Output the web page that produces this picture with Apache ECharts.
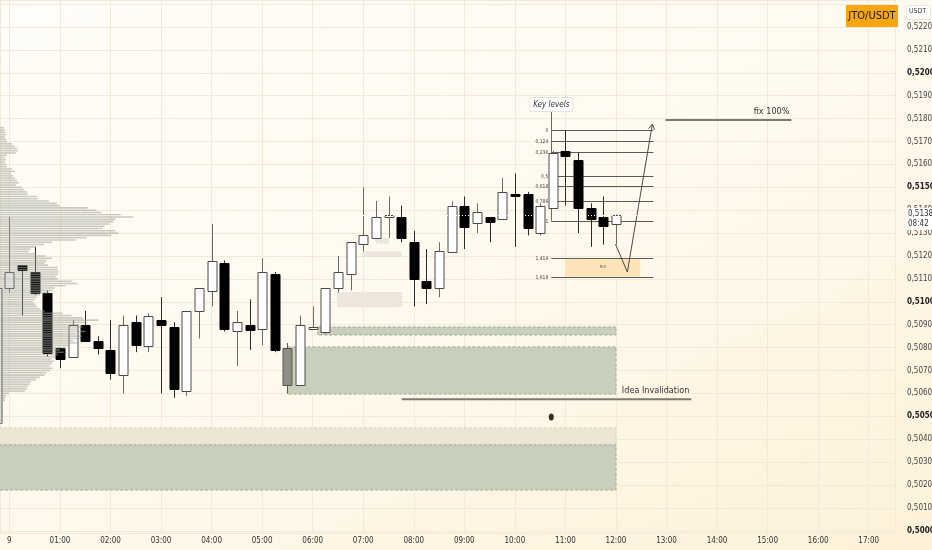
<!DOCTYPE html>
<html>
<head>
<meta charset="utf-8">
<script src="https://cdn.jsdelivr.net/npm/echarts@6/dist/echarts.min.js"></script>
<style>
html,body{margin:0;padding:0;}
#c{width:932px;height:550px;background:linear-gradient(155deg,#fffdf8 0%,#fffaf0 45%,#fdf1d8 100%);}
</style>
</head>
<body>
<div id="c"></div>
<script>
// ---------------- DATA ----------------
const times  = ['23:45','00:00','00:15','00:30','00:45','01:00','01:15','01:30','01:45','02:00','02:15','02:30','02:45','03:00','03:15','03:30','03:45','04:00','04:15','04:30','04:45','05:00','05:15','05:30','05:45','06:00','06:15','06:30','06:45','07:00','07:15','07:30','07:45','08:00','08:15','08:30','08:45','09:00','09:15','09:30','09:45','10:00','10:15','10:30','10:45','11:00','11:15','11:30','11:45','12:00'];
const opens  = [0.5047,0.5106,0.5116,0.5113,0.5104,0.5080,0.5076,0.5090,0.5083,0.5079,0.5068,0.5091,0.5081,0.5092,0.5089,0.5061,0.5096,0.5105,0.5117,0.5087,0.5090,0.5088,0.5112,0.5080,0.5064,0.5088,0.5087,0.5106,0.5112,0.5125,0.5128,0.5137,0.5137,0.5126,0.5109,0.5106,0.5122,0.5142,0.5134,0.5137,0.5136,0.5147,0.5147,0.5130,0.5141,0.5166,0.5162,0.5141,0.5137,0.5134];
const highs  = [0.5107,0.5137,0.5116,0.5124,0.5105,0.5080,0.5092,0.5096,0.5085,0.5092,0.5094,0.5094,0.5095,0.5102,0.5091,0.5096,0.5106,0.5134,0.5118,0.5096,0.5101,0.5119,0.5113,0.5082,0.5094,0.5098,0.5106,0.5120,0.5126,0.5150,0.5144,0.5146,0.5142,0.5131,0.5123,0.5126,0.5144,0.5146,0.5143,0.5137,0.5154,0.5156,0.5148,0.5143,0.5166,0.5175,0.5165,0.5143,0.5146,0.5138];
const lows   = [0.5046,0.5104,0.5094,0.5103,0.5076,0.5071,0.5076,0.5083,0.5077,0.5066,0.5060,0.5078,0.5078,0.5060,0.5058,0.5059,0.5084,0.5098,0.5087,0.5072,0.5079,0.5081,0.5078,0.5060,0.5064,0.5088,0.5086,0.5104,0.5105,0.5122,0.5128,0.5128,0.5126,0.5098,0.5099,0.5102,0.5122,0.5123,0.5130,0.5126,0.5136,0.5124,0.5129,0.5129,0.5141,0.5142,0.5130,0.5124,0.5125,0.5125];
const closes = [0.5106,0.5113,0.5114,0.5104,0.5078,0.5075,0.5090,0.5083,0.5080,0.5069,0.5090,0.5081,0.5094,0.5090,0.5062,0.5096,0.5106,0.5118,0.5088,0.5091,0.5088,0.5113,0.5079,0.5064,0.5090,0.5089,0.5106,0.5113,0.5126,0.5129,0.5137,0.5138,0.5128,0.5110,0.5106,0.5122,0.5142,0.5133,0.5139,0.5135,0.5148,0.5146,0.5132,0.5142,0.5165,0.5164,0.5141,0.5136,0.5133,0.5138];
const greyCandleTime = '05:30';

// volume profile, one value per 0.0001 price row starting at profileTop going down
const profileTop = 0.5176;
const profileStep = 0.0001;
const profileVolumes = [
  4,5,5,6,5,6,7,12,15,17,
  18,16,7,5,6,5,6,7,12,15,
  11,13,15,17,19,16,22,24,27,28,
  37,38,49,57,60,88,97,102,122,134,
  116,114,110,105,103,116,119,112,87,76,
  52,44,36,31,29,36,46,52,47,45,
  48,58,58,59,58,56,58,72,78,66,
  55,53,50,40,37,35,33,35,37,40,
  45,63,72,83,99,87,80,83,78,86,
  77,82,80,74,78,70,66,60,64,58,
  55,52,54,52,50,53,50,47,45,40,
  36,31,30,28,27,25,9,6,5,5,
  3,3,3,2,3,2,3,2,2,2
];

// zones: [startHour, endHour, topPrice, bottomPrice]
const greenZones = [[6.1,12.0,0.50890,0.50855],[5.5,12.0,0.50803,0.50597],[-1,12.0,0.50375,0.50178]];
const beigeZones = [[-1,12.0,0.50449,0.50375]];
const faintBoxes = [[6.49,7.76,0.51040,0.50979],[6.99,7.75,0.51219,0.51197],[7.25,7.50,0.51277,0.51256]];

// key levels (fibonacci)
const fibLevels = [0,0.124,0.236,0.5,0.618,0.786,1,1.414,1.618];
const fibPrice0 = 0.51749, fibPrice1 = 0.51354;
const fibStart = 10.72, fibEnd = 12.74;
const keyLevelsTitle = 'Key levels', keyLevelsPrice = 0.51833;
const roiLevels = [1.414,1.618], roiStart = 11.0, roiEnd = 12.48, roiText = 'ROI';
const arrowPath = [[11.99,0.51252],[12.225,0.51130],[12.72,0.51776]];
const textLines = [
  {start:12.98, end:15.47, price:0.51794, text:'fix 100%'},
  {start:7.76, end:13.49, price:0.50575, text:'Idea Invalidation'}
];
const dotPoint = [10.72,0.50497];
const lastPrice = 0.5138, countdown = '08:42';
const symbolName = 'JTO/USDT', quoteName = 'USDT', dayLabel = '9';

// ---------------- HELPERS ----------------
const FONT = "'Liberation Sans Narrow','Arial Narrow','DejaVu Sans Condensed',sans-serif";
const toHour = s => { const [h,m] = s.split(':').map(Number); let v = h + m/60; return v >= 20 ? v - 24 : v; };
const fmt4 = v => v.toFixed(4).replace('.', ',');
const fibPrice = l => fibPrice0 + (fibPrice1 - fibPrice0) * l;

const candleData = times.map((t,i) => [toHour(t), opens[i], closes[i], lows[i], highs[i]]);
const profileData = profileVolumes.map((v,i) => [v, +(profileTop - i*profileStep).toFixed(4)]);

function zoneSeries(name, arr, style, z) {
  return {
    type:'custom', name, data: arr, z, clip:true, silent:true,
    encode:{x:[0,1], y:[2,3]},
    renderItem:(params, api) => {
      const p1 = api.coord([api.value(0), api.value(2)]);
      const p2 = api.coord([api.value(1), api.value(3)]);
      return {type:'rect', shape:{x:p1[0], y:p1[1], width:p2[0]-p1[0], height:p2[1]-p1[1]}, style};
    }
  };
}

const chart = echarts.init(document.getElementById('c'), null, {renderer:'canvas'});

const option = {
  backgroundColor:'transparent',
  animation:false,
  grid:{left:0, right:37, top:0, bottom:17, containLabel:false, outerBoundsMode:'none'},
  xAxis:[
    {type:'value', min:-0.186, max:17.52, splitNumber:18, minInterval:1, maxInterval:1,
     axisLine:{show:false}, axisTick:{show:false},
     splitLine:{show:true, lineStyle:{color:'#f1eadb', width:1}},
     axisLabel:{showMinLabel:false, showMaxLabel:false, margin:4, color:'#333', fontSize:8, fontFamily:FONT,
       formatter: v => { if (Math.abs(v - Math.round(v)) > 1e-6) return ''; const h = Math.round(v); return h === 0 ? dayLabel : (h<10?'0':'') + h + ':00'; }}},
    {type:'value', min:0, max:900, show:false}
  ],
  yAxis:[
    {type:'value', position:'right', min:0.499904, max:0.523179, splitNumber:23, minInterval:0.001, maxInterval:0.001,
     axisLine:{show:false}, axisTick:{show:false},
     splitLine:{show:true, lineStyle:{color:'#f1eadb', width:1}},
     axisLabel:{showMinLabel:false, showMaxLabel:false, margin:12, color:'#444', fontSize:8, fontFamily:FONT,
       formatter: v => {
         const k = v*1000; if (Math.abs(k - Math.round(k)) > 1e-6 || v > 0.5225) return '';
         const s = fmt4(v);
         return (Math.round(k) % 5 === 0) ? '{b|' + s + '}' : s;
       },
       rich:{b:{fontWeight:600, color:'#222', fontSize:8, fontFamily:FONT}}}}
  ],
  graphic:[
    {type:'rect', left:846, top:5, shape:{width:52, height:22}, style:{fill:'#f6a70f'}, z:10},
    {type:'text', x:872, y:16.5, style:{text:symbolName, fill:'#1a1a1a', font:'11px ' + FONT, align:'center', verticalAlign:'middle'}, z:11},
    {type:'rect', left:906, top:5, shape:{width:24, height:14, r:2}, style:{fill:'#ffffff', stroke:'#ece7dc'}, z:10},
    {type:'text', left:909, top:8, style:{text:quoteName, fill:'#444', font:'7px ' + FONT}, z:11}
  ],
  series:[
    zoneSeries('beige', beigeZones, {fill:'#eee6d5', stroke:'#d6cfbf', lineWidth:1, lineDash:[3,2]}, 1),
    zoneSeries('green', greenZones, {fill:'#c8cfbb', stroke:'#a3aa97', lineWidth:1, lineDash:[3,2]}, 1),
    zoneSeries('faint', faintBoxes, {fill:'#ede6dc', stroke:'#e2dbd0', lineWidth:1, lineDash:[2,2]}, 1),
    // fib key levels
    {
      type:'custom', name:'fib', z:1.5, silent:true,
      data: fibLevels.map(l => [fibStart, fibPrice(l), l]),
      renderItem:(params, api) => {
        const l = api.value(2);
        const a = api.coord([fibStart, fibPrice(l)]);
        const b = api.coord([fibEnd, fibPrice(l)]);
        const y = Math.round(a[1]) + 0.5;
        const children = [
          {type:'line', shape:{x1:a[0], y1:y, x2:b[0], y2:y}, style:{stroke:'#5a5a5a', lineWidth:1}},
          {type:'text', x:a[0]-3, y:y, style:{text:String(l).replace('.', ','), fill:'#444', font:'5px ' + FONT, align:'right', verticalAlign:'middle', textAlign:'right', textVerticalAlign:'middle'}}
        ];
        if (params.dataIndex === 0) {
          const top = api.coord([fibStart, keyLevelsPrice]);
          const bot = api.coord([fibStart, fibPrice(1)]);
          const x = Math.round(top[0]) + 0.5;
          children.push({type:'line', shape:{x1:x, y1:top[1], x2:x, y2:bot[1]}, style:{stroke:'#6a6a6a', lineWidth:1}});
          const r1 = api.coord([roiStart, fibPrice(roiLevels[0])]);
          const r2 = api.coord([roiEnd, fibPrice(roiLevels[1])]);
          children.push({type:'rect', shape:{x:r1[0], y:r1[1]+1, width:r2[0]-r1[0], height:r2[1]-r1[1]-1}, style:{fill:'#fde3b7'}});
          children.push({type:'text', x:(r1[0]+r2[0])/2, y:(r1[1]+r2[1])/2, style:{text:roiText, fill:'#555', font:'4px ' + FONT, align:'center', verticalAlign:'middle', textAlign:'center', textVerticalAlign:'middle'}});
        }
        return {type:'group', children};
      }
    },
    // candles
    {
      type:'custom', name:'candles', z:2, clip:true, silent:true,
      data: candleData,
      encode:{x:0, y:[1,2,3,4]},
      renderItem:(params, api) => {
        const t = api.value(0), o = api.value(1), c = api.value(2), l = api.value(3), h = api.value(4);
        const bw = api.size([0.25, 0])[0] * 0.73;
        const pO = api.coord([t, o]), pC = api.coord([t, c]), pL = api.coord([t, l]), pH = api.coord([t, h]);
        const x = Math.round(pO[0]) + 0.5;
        const top = Math.min(pO[1], pC[1]), bot = Math.max(pO[1], pC[1]);
        const bull = c >= o;
        let fill = bull ? '#ffffff' : '#000000';
        let stroke = bull ? '#4a4a4a' : '#000000';
        let wick = bull ? '#6b6b6b' : '#2a2a2a';
        if (times[params.dataIndex] === greyCandleTime) { fill = '#8e8e86'; stroke = '#55554f'; wick = '#55554f'; }
        return {type:'group', children:[
          {type:'line', shape:{x1:x, y1:pH[1], x2:x, y2:pL[1]}, style:{stroke:wick, lineWidth:1}},
          {type:'rect', shape:{x:Math.round(x - bw/2), y:Math.round(top)+0.5, width:Math.round(bw), height:Math.max(Math.round(bot-top), 1)}, style:{fill, stroke, lineWidth:1}}
        ]};
      }
    },
    // volume profile
    {
      type:'custom', name:'profile', xAxisIndex:1, yAxisIndex:0, z:3, silent:true,
      data: profileData,
      encode:{x:0, y:1},
      renderItem:(params, api) => {
        const v = api.value(0), p = api.value(1);
        const a = api.coord([0, p + profileStep/2]);
        const b = api.coord([v, p - profileStep/2]);
        return {type:'rect', shape:{x:a[0], y:a[1]+0.35, width:b[0]-a[0], height:b[1]-a[1]-0.7}, style:{fill:'rgba(158,160,150,0.55)'}};
      }
    },
    // arrow path
    {
      type:'custom', name:'arrow', z:4, silent:true,
      data:[arrowPath[0]],
      renderItem:(params, api) => {
        const pts = arrowPath.map(p => api.coord(p));
        const n = pts.length;
        const [x2,y2] = pts[n-1], [x1,y1] = pts[n-2];
        const ang = Math.atan2(y2-y1, x2-x1);
        const L = 6, s = Math.PI/6;
        const h1 = [x2 - L*Math.cos(ang - s), y2 - L*Math.sin(ang - s)];
        const h2 = [x2 - L*Math.cos(ang + s), y2 - L*Math.sin(ang + s)];
        return {type:'group', children:[
          {type:'polyline', shape:{points:pts}, style:{stroke:'#4a4a4a', lineWidth:1, fill:null}},
          {type:'polyline', shape:{points:[h1,[x2,y2],h2]}, style:{stroke:'#4a4a4a', lineWidth:1, fill:null}}
        ]};
      }
    },
    // text lines (fix 100% / idea invalidation)
    {
      type:'custom', name:'textLines', z:4, silent:true,
      data: textLines.map(d => [d.start, d.price, d.end]),
      renderItem:(params, api) => {
        const d = textLines[params.dataIndex];
        const a = api.coord([d.start, d.price]);
        const b = api.coord([d.end, d.price]);
        return {type:'group', children:[
          {type:'line', shape:{x1:a[0], y1:a[1], x2:b[0], y2:b[1]}, style:{stroke:'#7b7a70', lineWidth:2}},
          {type:'text', x:b[0]-2, y:a[1]-4, style:{text:d.text, fill:'#333', font:'9px ' + FONT, align:'right', verticalAlign:'bottom', textAlign:'right', textVerticalAlign:'bottom'}}
        ]};
      }
    },
    // key levels title
    {
      type:'custom', name:'keyTitle', z:5, silent:true,
      data:[[fibStart, keyLevelsPrice]],
      renderItem:(params, api) => {
        const p = api.coord([api.value(0), api.value(1)]);
        return {type:'text', x:p[0], y:p[1], style:{text:keyLevelsTitle, fill:'#333', font:'italic 8px ' + FONT, align:'center', verticalAlign:'bottom', textAlign:'center', textVerticalAlign:'bottom', backgroundColor:'#ffffff', borderColor:'#e8e4da', borderWidth:1, borderRadius:2, padding:[3,3,2,3]}};
      }
    },
    // dot
    {type:'scatter', name:'dot', z:5, silent:true, data:[dotPoint], symbol:'circle', symbolSize:[5,7], itemStyle:{color:'#000'}},
    // last price line + tag
    {type:'line', name:'last', data:[], silent:true, z:6,
     markLine:{silent:true, symbol:['none','none'], animation:false, precision:4,
       lineStyle:{color:'#ffffff', type:[1,2], width:1},
       data:[{yAxis:lastPrice}],
       label:{show:true, position:'end', distance:11, offset:[0,4], formatter: fmt4(lastPrice) + '\n' + countdown,
         backgroundColor:'#ffffff', color:'#333', fontSize:8, lineHeight:10, fontFamily:FONT, padding:[1,3,1,2], align:'left'}}}
  ]
};
chart.setOption(option);
</script>
</body>
</html>
